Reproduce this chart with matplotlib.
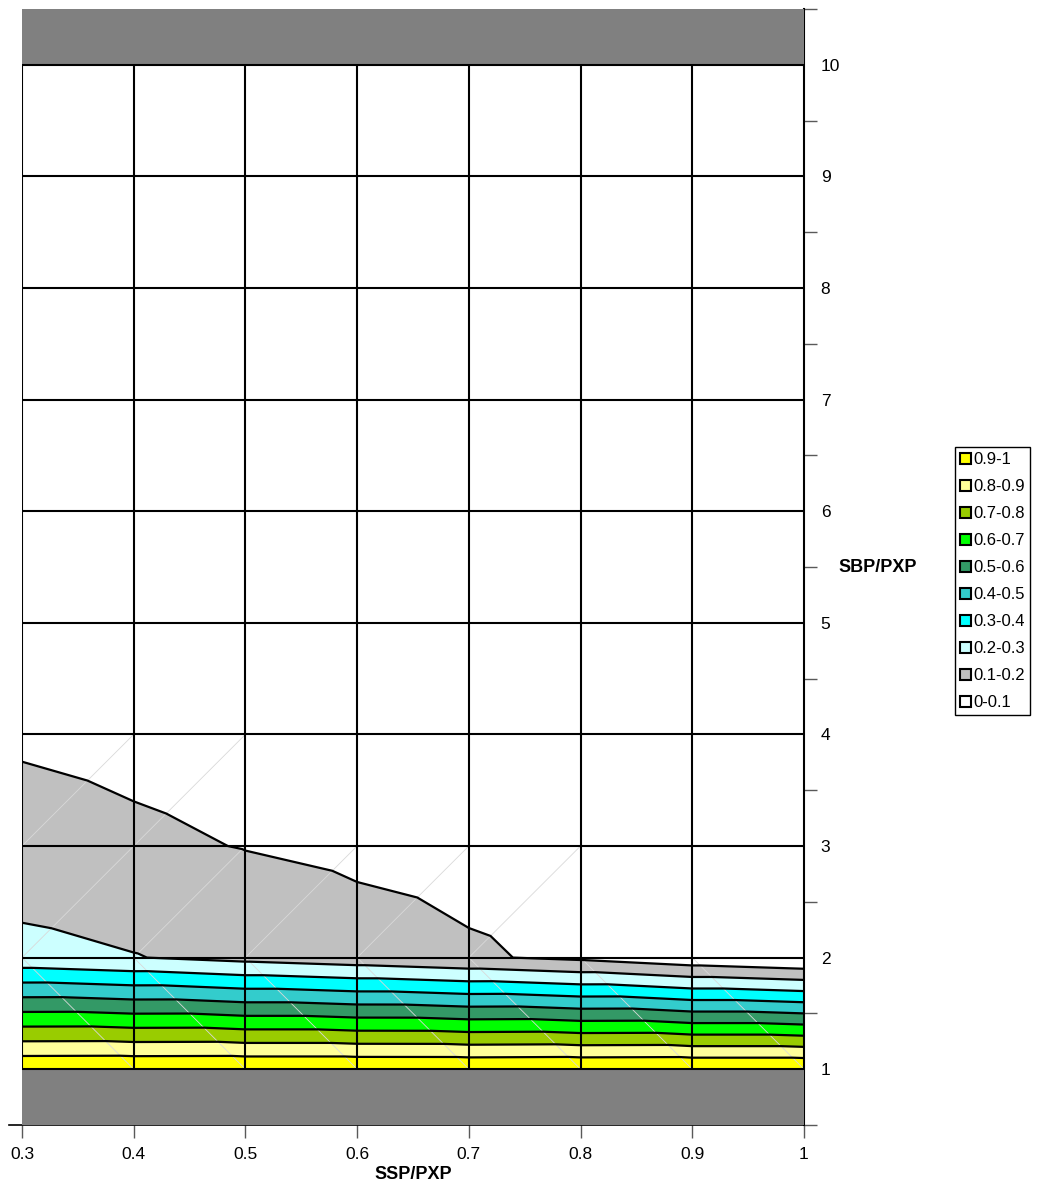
import matplotlib
matplotlib.use("Agg")
import matplotlib.pyplot as plt
import matplotlib.tri as mtri
from matplotlib.patches import Patch
import numpy as np

plt.rcParams['font.family'] = ['Liberation Sans', 'DejaVu Sans']

# grid nodes of the surface
ssp_pxp = [0.3, 0.4, 0.5, 0.6, 0.7, 0.8, 0.9, 1.0]
sbp_pxp = [1, 2, 3, 4, 5, 6, 7, 8, 9, 10]

# surface value at each node, one row per SBP/PXP value
z_sbp1 = [0.990, 0.992, 0.994, 0.994, 0.993, 0.997, 1.000, 1.000]
z_sbp2 = [0.230, 0.204, 0.170, 0.142, 0.113, 0.080, 0.032, 0.000]
z_sbp3 = [0.134, 0.116, 0.097, 0.080, 0.064, 0.046, 0.030, 0.015]
z_sbp4 = [0.089, 0.076, 0.061, 0.045, 0.035, 0.025, 0.015, 0.005]
z_sbp5 = [0.0, 0.0, 0.0, 0.0, 0.0, 0.0, 0.0, 0.0]
z_sbp6 = [0.0, 0.0, 0.0, 0.0, 0.0, 0.0, 0.0, 0.0]
z_sbp7 = [0.0, 0.0, 0.0, 0.0, 0.0, 0.0, 0.0, 0.0]
z_sbp8 = [0.0, 0.0, 0.0, 0.0, 0.0, 0.0, 0.0, 0.0]
z_sbp9 = [0.0, 0.0, 0.0, 0.0, 0.0, 0.0, 0.0, 0.0]
z_sbp10 = [0.0, 0.0, 0.0, 0.0, 0.0, 0.0, 0.0, 0.0]

band_levels = [0.0, 0.1, 0.2, 0.3, 0.4, 0.5, 0.6, 0.7, 0.8, 0.9, 1.0]
band_labels = ['0-0.1', '0.1-0.2', '0.2-0.3', '0.3-0.4', '0.4-0.5',
               '0.5-0.6', '0.6-0.7', '0.7-0.8', '0.8-0.9', '0.9-1']
band_colours = ['#ffffff', '#c0c0c0', '#ccffff', '#00ffff', '#33cccc',
                '#339966', '#00ff00', '#99cc00', '#ffff99', '#ffff00']

# cell split direction per row: True = top-left to bottom-right
split_down = [True, False, False, False, False, False, False, False, False]

Z = np.array([z_sbp1, z_sbp2, z_sbp3, z_sbp4, z_sbp5,
              z_sbp6, z_sbp7, z_sbp8, z_sbp9, z_sbp10])
nx, ny = len(ssp_pxp), len(sbp_pxp)
X, Y = np.meshgrid(ssp_pxp, sbp_pxp)

triangles = []
seams = []
for j in range(ny - 1):
    for i in range(nx - 1):
        a = j * nx + i
        b = a + 1
        c = a + nx
        d = c + 1
        if split_down[j]:
            triangles += [[a, b, c], [b, d, c]]
            diag = (c, b)
        else:
            triangles += [[a, d, c], [a, b, d]]
            diag = (a, d)
        corners = Z.ravel()[[a, b, c, d]]
        if any(corners.min() < lv < corners.max() for lv in band_levels[1:-1]):
            seams.append(diag)
tri = mtri.Triangulation(X.ravel(), Y.ravel(), triangles)

fig = plt.figure(figsize=(10.37, 11.89), dpi=100)
ax = fig.add_axes([22 / 1037, 64 / 1189, 782 / 1037, 1116 / 1189])

ax.tricontourf(tri, Z.ravel(), levels=band_levels, colors=band_colours, zorder=1)
xs, ys = X.ravel(), Y.ravel()
for p, q in seams:
    ax.plot([xs[p], xs[q]], [ys[p], ys[q]], color='#d9d9d9', lw=0.6, zorder=2)
ax.tricontour(tri, Z.ravel(), levels=band_levels[1:-1], colors='black',
              linewidths=1.6, zorder=3)

ax.axhspan(0.5, sbp_pxp[0], color='#808080', lw=0, zorder=4)
ax.axhspan(sbp_pxp[-1], 10.5, color='#808080', lw=0, zorder=4)
ax.hlines(sbp_pxp, ssp_pxp[0], ssp_pxp[-1], color='black', lw=1.5, zorder=5)
ax.vlines(ssp_pxp[:-1], sbp_pxp[0], sbp_pxp[-1], color='black', lw=1.5, zorder=5)

ax.set_xlim(0.3, 1.0)
ax.set_ylim(0.5, 10.5)
ax.spines['left'].set_visible(False)
ax.spines['top'].set_visible(False)
ax.spines['right'].set_linewidth(1.5)
ax.spines['bottom'].set_linewidth(1.2)
ax.spines['bottom'].set_bounds(0.2884, 1.0)

ax.set_xticks(ssp_pxp)
ax.set_xticklabels(['0.3', '0.4', '0.5', '0.6', '0.7', '0.8', '0.9', '1'])
ax.tick_params(axis='x', direction='out', length=9.5, width=1, color='0.35',
               pad=6, labelsize=12.5)

ax.yaxis.set_ticks_position('right')
ax.set_yticks(sbp_pxp)
ax.set_yticks(np.arange(0.5, 11, 1.0), minor=True)
ax.tick_params(axis='y', which='major', length=0, pad=12, labelsize=12.5)
ax.tick_params(axis='y', which='minor', direction='out', length=9.5, width=1,
               color='0.35')

ax.set_xlabel('SSP/PXP', fontweight='bold', fontsize=13, labelpad=3)
ax.yaxis.set_label_position('right')
ax.set_ylabel('SBP/PXP', fontweight='bold', fontsize=13, rotation=0,
              ha='left', va='center')
ax.yaxis.set_label_coords(1.0435, 0.5)

handles = [Patch(facecolor=c, edgecolor='black', linewidth=1.5, label=l)
           for c, l in zip(band_colours[::-1], band_labels[::-1])]
leg = fig.legend(handles=handles, loc='upper left',
                 bbox_to_anchor=(955 / 1037, 1 - 447 / 1189), borderaxespad=0,
                 fontsize=12, handlelength=0.66, handleheight=0.66,
                 handletextpad=0.15, labelspacing=0.72, borderpad=0.3,
                 fancybox=False, framealpha=1, edgecolor='black')
leg.get_frame().set_linewidth(1)

fig.savefig('out.png', dpi=100)
